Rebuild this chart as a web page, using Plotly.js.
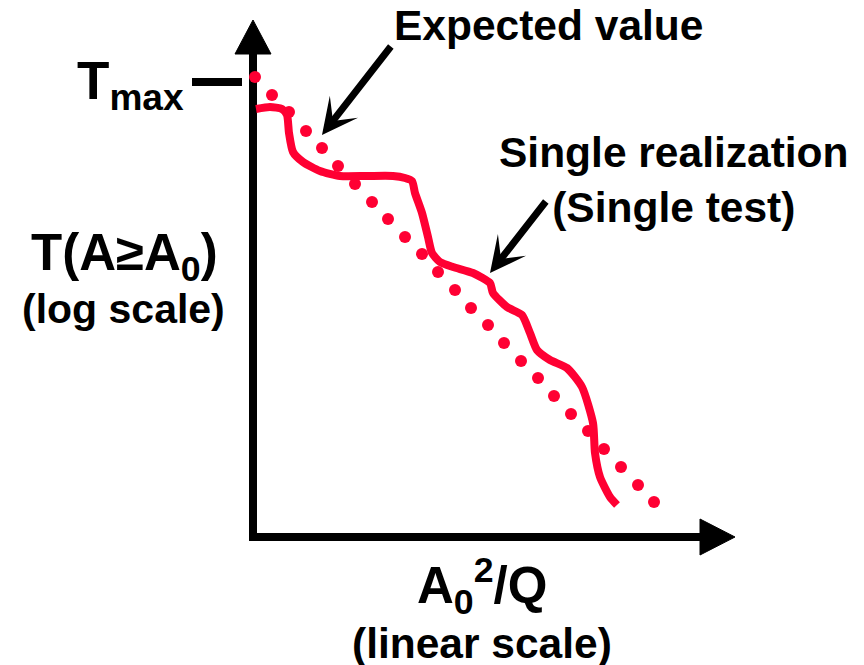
<!DOCTYPE html>
<html>
<head>
<meta charset="utf-8">
<script src="https://cdn.plot.ly/plotly-3.0.1.min.js"></script>
<style>html,body{margin:0;padding:0;background:#fff;}#chart{width:864px;height:665px;}</style>
</head>
<body>
<div id="chart"></div>
<script>
// Schematic coordinates: x = A0^2/Q (linear, arbitrary units), y = T(A>=A0) (log scale, arbitrary units)
var expectedX = [2,19,36,53,69,85,102,119,135,152,169,185,202,218,235,251,268,285,301,318,335,351,368,385,401];
var expectedY = [460,442,425,406,389,371,353,335,318,300,283,265,247,229,212,194,176,159,141,123,106,88,70,52,35];

var singleX = [3,17,29,34,36,40,50,67,87,114,140,152,159,162,169,175,179,187,200,220,237,240,254,269,277,284,297,314,329,340,342,347,357,364];
var singleY = [428,430,428,422,404,385,375,366,361,361,361,359,356,344,324,300,284,275,270,264,254,244,230,222,204,187,177,169,150,114,84,60,40,32];

var tmaxLevel = 455;
var labels = {
  expected: 'Expected value',
  single: 'Single realization<br>(Single test)',
  yTitle: 'T(A≥A<sub>0</sub>)',
  yScale: '(log scale)',
  xTitle: 'A<sub>0</sub><sup>2</sup>/Q',
  xScale: '(linear scale)',
  tmax: 'T<sub>max</sub>'
};

var RED = '#ff0033';
var FONT = 'Arial, "Liberation Sans", sans-serif';

var traces = [
  {x: singleX, y: singleY, mode: 'lines', type: 'scatter',
   line: {color: RED, width: 8, shape: 'spline', smoothing: 0.6}},
  {x: expectedX, y: expectedY, mode: 'markers', type: 'scatter',
   marker: {color: RED, size: 12, line: {width: 0}}}
];

function txt(text, x, y, size, xanchor) {
  return {text: text, x: x, y: y, xref: 'x', yref: 'y', showarrow: false,
    xanchor: xanchor || 'center', yanchor: 'middle',
    font: {family: FONT, size: size, color: '#000', weight: 'bold'}};
}
function arrow(tipX, tipY, tailX, tailY) {
  return {text: '', x: tipX, y: tipY, ax: tailX, ay: tailY, xref: 'x', yref: 'y',
    axref: 'x', ayref: 'y', showarrow: true, arrowhead: 3, arrowsize: 0.85,
    arrowwidth: 7, arrowcolor: '#000', standoff: 0};
}

var layout = {
  width: 864, height: 665,
  margin: {l: 0, r: 0, t: 0, b: 0},
  paper_bgcolor: '#fff', plot_bgcolor: '#fff',
  showlegend: false, hovermode: false,
  xaxis: {range: [-253, 611], visible: false, fixedrange: true},
  yaxis: {range: [-128, 537], visible: false, fixedrange: true},
  shapes: [
    {type: 'path', xref: 'x', yref: 'y', layer: 'below',
     path: 'M0,483 L0,0 L447,0', line: {color: '#000', width: 8}, fillcolor: 'rgba(0,0,0,0)'},
    {type: 'path', xref: 'x', yref: 'y', layer: 'below',
     path: 'M0,517 L-18,483 L18,483 Z', line: {color: '#000', width: 1}, fillcolor: '#000'},
    {type: 'path', xref: 'x', yref: 'y', layer: 'below',
     path: 'M482,0 L447,18 L447,-18 Z', line: {color: '#000', width: 1}, fillcolor: '#000'},
    {type: 'line', xref: 'x', yref: 'y', layer: 'below',
     x0: -61, x1: -11, y0: tmaxLevel, y1: tmaxLevel, line: {color: '#000', width: 8}}
  ],
  annotations: [
    txt(labels.expected, 295, 512, 42.5),
    txt(labels.single, 421, 357, 42.5),
    txt(labels.yTitle, -129, 281, 51),
    txt(labels.yScale, -130, 228, 41),
    txt(labels.tmax, -123, 453, 53),
    txt(labels.xTitle, 229, -49, 51),
    txt(labels.xScale, 229, -106, 42.5),
    arrow(69, 402, 139, 492),
    arrow(237, 264, 294, 337)
  ]
};

Plotly.newPlot('chart', traces, layout, {staticPlot: true, displayModeBar: false});
</script>
</body>
</html>
